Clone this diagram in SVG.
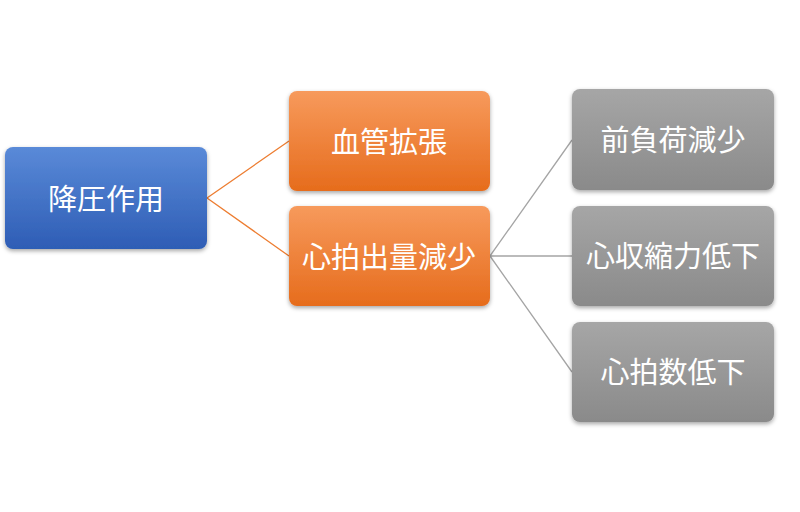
<svg xmlns="http://www.w3.org/2000/svg" width="800" height="512" viewBox="0 0 800 512">
<defs>
<linearGradient id="gb" x1="0" y1="0" x2="0" y2="1"><stop offset="0" stop-color="#5a8ad8"/><stop offset="1" stop-color="#2e5db5"/></linearGradient>
<linearGradient id="go" x1="0" y1="0" x2="0" y2="1"><stop offset="0" stop-color="#f79a5c"/><stop offset="1" stop-color="#e66c1c"/></linearGradient>
<linearGradient id="gg" x1="0" y1="0" x2="0" y2="1"><stop offset="0" stop-color="#a6a6a6"/><stop offset="1" stop-color="#8a8a8a"/></linearGradient>
<filter id="sh" x="-10%" y="-10%" width="120%" height="130%"><feDropShadow dx="0" dy="2" stdDeviation="2" flood-opacity="0.35"/></filter>
</defs>
<style>
text{font-family:"Noto Sans CJK JP","Noto Sans CJK SC",sans-serif;font-size:29px;fill:#fff;text-anchor:middle;dominant-baseline:central}
rect{filter:url(#sh)}
</style>
<rect width="800" height="512" fill="#fff" style="filter:none"/>
<g id="connectors" fill="none" stroke-width="1.3">
<path d="M207 198L289 141M207 198L289 256" stroke="#ed7d31"/>
<path d="M490 256L572 140M490 256L572 256M490 256L572 372" stroke="#a5a5a5"/>
</g>
<g id="n1"><rect x="5" y="147" width="202" height="102" rx="8" fill="url(#gb)"/><text x="106" y="197">降圧作用</text></g>
<g id="n2"><rect x="289" y="91" width="201" height="100" rx="8" fill="url(#go)"/><text x="389" y="140">血管拡張</text></g>
<g id="n3"><rect x="289" y="206" width="201" height="100" rx="8" fill="url(#go)"/><text x="389" y="255">心拍出量減少</text></g>
<g id="n4"><rect x="572" y="89" width="202" height="101" rx="8" fill="url(#gg)"/><text x="673" y="138">前負荷減少</text></g>
<g id="n5"><rect x="572" y="206" width="202" height="100" rx="8" fill="url(#gg)"/><text x="673" y="254">心収縮力低下</text></g>
<g id="n6"><rect x="572" y="322" width="202" height="100" rx="8" fill="url(#gg)"/><text x="673" y="370">心拍数低下</text></g>
</svg>
